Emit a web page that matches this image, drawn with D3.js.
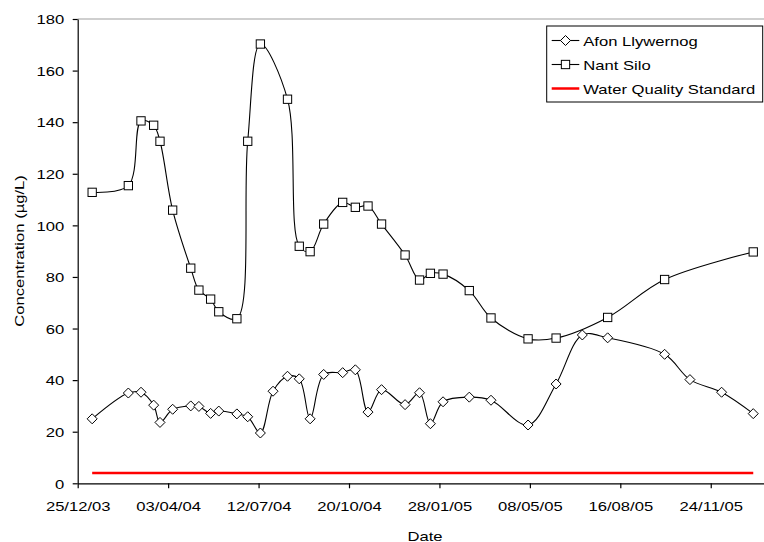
<!DOCTYPE html>
<html>
<head>
<meta charset="utf-8">
<script src="https://cdn.jsdelivr.net/npm/d3@7"></script>
<style>
  html, body { margin: 0; padding: 0; background: #fff; }
  svg { display: block; }
  text { font-family: "Liberation Sans", Arial, sans-serif; fill: #000; }
</style>
</head>
<body>
<svg id="chart" width="764" height="542"></svg>
<script>
// ---------- data ----------
const xTickLabels = ["25/12/03","03/04/04","12/07/04","20/10/04","28/01/05","08/05/05","16/08/05","24/11/05"];
const xDomain = ["25/12/03", "22/01/06"];
const yTicks = [0,20,40,60,80,100,120,140,160,180];

const nantDates = ["10/01/04","19/02/04","04/03/04","18/03/04","25/03/04","08/04/04","28/04/04","07/05/04",
  "20/05/04","29/05/04","18/06/04","30/06/04","14/07/04","13/08/04","26/08/04","07/09/04","22/09/04",
  "13/10/04","27/10/04","10/11/04","25/11/04","21/12/04","06/01/05","18/01/05","01/02/05","02/03/05",
  "26/03/05","06/05/05","06/06/05","02/08/05","04/10/05","10/01/06"];
const nantValues = [112.8,115.4,140.5,138.8,132.6,105.9,83.4,74.9,71.4,66.5,63.8,132.6,170.3,148.9,91.9,89.8,
  100.5,108.9,107.0,107.5,100.5,88.5,78.8,81.4,81.1,74.7,64.1,56.0,56.3,64.3,79.0,89.7];

const afonDates = ["10/01/04","19/02/04","04/03/04","18/03/04","25/03/04","08/04/04","28/04/04","07/05/04",
  "20/05/04","29/05/04","18/06/04","30/06/04","14/07/04","28/07/04","13/08/04","26/08/04","07/09/04",
  "22/09/04","13/10/04","27/10/04","10/11/04","25/11/04","21/12/04","06/01/05","18/01/05","01/02/05",
  "02/03/05","26/03/05","06/05/05","06/06/05","05/07/05","02/08/05","04/10/05","01/11/05","06/12/05","10/01/06"];
const afonValues = [25.0,35.0,35.3,30.3,23.6,28.7,30.0,29.8,27.1,28.0,26.9,25.8,19.5,35.7,41.5,40.5,25.0,
  42.2,42.9,44.0,27.6,36.3,30.5,35.1,23.1,31.6,33.4,32.2,22.6,38.5,57.5,56.4,50.0,40.2,35.3,27.0];

const standardDates = ["10/01/04","10/01/06"];
const standardValues = [4, 4];

const seriesNames = ["Afon Llywernog", "Nant Silo", "Water Quality Standard"];
const xTitle = "Date";
const yTitle = "Concentration (µg/L)";

// ---------- layout ----------
const parse = d3.utcParse("%d/%m/%y");
const FS = 13.5, SX = 1.23; // font size and horizontal glyph stretch
const plotL = 77.7, plotR = 764.1, plotT = 19, plotB = 483.3;

const svg = d3.select("#chart");
const x = d3.scaleUtc().domain(xDomain.map(parse)).range([plotL, plotR]);
const y = d3.scaleLinear().domain([0, 180]).range([plotB, plotT]);

const zip = (ds, vs) => ds.map((d, i) => ({ date: parse(d), value: vs[i] }));
const nant = zip(nantDates, nantValues);
const afon = zip(afonDates, afonValues);
const std = zip(standardDates, standardValues);

// plot-area top border (gray)
svg.append("line")
  .attr("x1", plotL).attr("x2", 764).attr("y1", plotT).attr("y2", plotT)
  .attr("stroke", "#a0a0a0").attr("stroke-width", 1.2);

// axes
const yAxis = svg.append("g").attr("transform", `translate(${plotL},0)`)
  .call(d3.axisLeft(y).tickValues(yTicks).tickSize(5).tickPadding(8).tickSizeOuter(0));
yAxis.selectAll("text")
  .attr("x", -13.4 / SX).attr("dy", "0.35em")
  .attr("transform", `scale(${SX},1)`)
  .style("font-size", FS + "px");

const xAxis = svg.append("g").attr("transform", `translate(0,${plotB})`)
  .call(d3.axisBottom(x).tickValues(xTickLabels.map(parse)).tickFormat((d, i) => xTickLabels[i])
    .tickSize(5).tickPadding(13).tickSizeOuter(0));
xAxis.selectAll("text")
  .attr("transform", `scale(${SX},1)`)
  .style("font-size", FS + "px");

[yAxis, xAxis].forEach(g => {
  g.select(".domain").attr("stroke", "#000").attr("stroke-width", 1.2);
  g.selectAll(".tick line").attr("stroke", "#000").attr("stroke-width", 1.2);
});

// axis titles
svg.append("text")
  .attr("transform", `translate(425,540.5) scale(${SX},1)`)
  .attr("text-anchor", "middle").style("font-size", FS + "px").text(xTitle);
svg.append("text")
  .attr("transform", `translate(24,251) rotate(-90) scale(${SX},1)`)
  .attr("text-anchor", "middle").style("font-size", FS + "px").text(yTitle);

// smoothed lines
const line = d3.line().x(d => x(d.date)).y(d => y(d.value)).curve(d3.curveCatmullRom.alpha(0.5));

svg.append("path").datum(std)
  .attr("d", d3.line().x(d => x(d.date)).y(d => y(d.value)))
  .attr("fill", "none").attr("stroke", "#ff0000").attr("stroke-width", 2.5);

svg.append("path").datum(nant).attr("d", line)
  .attr("fill", "none").attr("stroke", "#000").attr("stroke-width", 1.1);
svg.append("path").datum(afon).attr("d", line)
  .attr("fill", "none").attr("stroke", "#000").attr("stroke-width", 1.1);

// markers
const SQ = 8.3, DI = 5;
const diamondPath = (cx, cy) => `M${cx},${cy - DI}L${cx + DI},${cy}L${cx},${cy + DI}L${cx - DI},${cy}Z`;

svg.append("g").selectAll("rect").data(nant).join("rect")
  .attr("x", d => x(d.date) - SQ / 2).attr("y", d => y(d.value) - SQ / 2)
  .attr("width", SQ).attr("height", SQ)
  .attr("fill", "#fff").attr("stroke", "#000").attr("stroke-width", 1);

svg.append("g").selectAll("path").data(afon).join("path")
  .attr("d", d => diamondPath(x(d.date), y(d.value)))
  .attr("fill", "#fff").attr("stroke", "#000").attr("stroke-width", 1);

// legend
const lg = svg.append("g");
lg.append("rect").attr("x", 546.7).attr("y", 26).attr("width", 216).attr("height", 76)
  .attr("fill", "#fff").attr("stroke", "#000").attr("stroke-width", 1);
const rowsY = [40.5, 64.5, 88.5];
seriesNames.forEach((name, i) => {
  const cy = rowsY[i];
  lg.append("line").attr("x1", 551.7).attr("x2", 579.3).attr("y1", cy).attr("y2", cy)
    .attr("stroke", i === 2 ? "#ff0000" : "#000").attr("stroke-width", i === 2 ? 2.5 : 1.1);
  if (i === 0) {
    lg.append("path").attr("d", diamondPath(565.5, cy)).attr("fill", "#fff").attr("stroke", "#000");
  } else if (i === 1) {
    lg.append("rect").attr("x", 565.5 - SQ / 2).attr("y", cy - SQ / 2).attr("width", SQ).attr("height", SQ)
      .attr("fill", "#fff").attr("stroke", "#000");
  }
  lg.append("text").attr("transform", `translate(583.3,${cy + 5}) scale(${SX},1)`)
    .style("font-size", FS + "px").text(name);
});
</script>
</body>
</html>
